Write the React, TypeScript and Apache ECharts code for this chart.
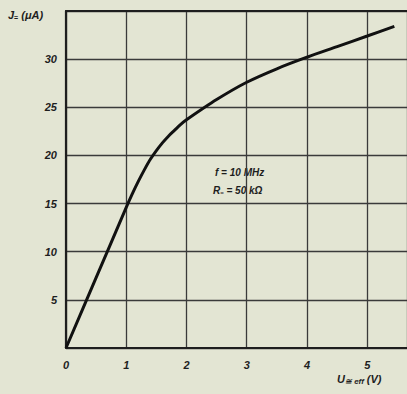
import React, { useEffect, useRef } from "react";
import * as echarts from "echarts";

const xValues = [0, 0.5, 1.0, 1.1, 1.2, 1.3, 1.4, 1.5, 1.6, 1.7, 1.8, 1.9, 2.0, 2.5, 3.0, 3.5, 4.0, 4.5, 5.0, 5.45];
const yValues = [0, 7.3, 14.6, 16.0, 17.3, 18.5, 19.6, 20.5, 21.3, 22.0, 22.6, 23.2, 23.7, 25.8, 27.6, 29.0, 30.2, 31.3, 32.4, 33.4];
const yTicks = [5, 10, 15, 20, 25, 30];
const xTicks = [0, 1, 2, 3, 4, 5];

const FONT = "Liberation Sans";
const INK = "#1e1e1e";

export default function App() {
  const ref = useRef<HTMLDivElement>(null);
  useEffect(() => {
    if (!ref.current) return;
    const chart = echarts.init(ref.current, null, { renderer: "svg" });
    const data = xValues.map((x, i) => [x, yValues[i]]);
    chart.setOption({
      animation: false,
      backgroundColor: "#e3e5d3",
      grid: { left: 66, right: -2, top: 11, bottom: 46 },
      xAxis: [
        {
          type: "value",
          min: 0,
          max: 5.66,
          interval: 1,
          axisLine: { show: true, onZero: false, lineStyle: { color: INK, width: 2.2 } },
          axisTick: { show: false },
          splitLine: { show: true, lineStyle: { color: "#3a3a3a", width: 1.3 } },
          axisLabel: {
            margin: 11,
            color: INK,
            fontFamily: FONT,
            fontStyle: "italic",
            fontWeight: "bold",
            fontSize: 11,
            showMaxLabel: false,
            formatter: (v: number) => (xTicks.includes(v) ? String(v) : ""),
          },
        },
        {
          type: "value",
          position: "top",
          min: 0,
          max: 5.66,
          interval: 1,
          axisLine: { show: true, onZero: false, lineStyle: { color: INK, width: 2 } },
          axisTick: { show: false },
          axisLabel: { show: false },
          splitLine: { show: false },
        },
      ],
      yAxis: {
        type: "value",
        min: 0,
        max: 35,
        interval: 5,
        axisLine: { show: true, lineStyle: { color: INK, width: 2.2 } },
        axisTick: { show: false },
        splitLine: { show: true, lineStyle: { color: "#3a3a3a", width: 1.3 } },
        axisLabel: {
          margin: 9,
          color: INK,
          fontFamily: FONT,
          fontStyle: "italic",
          fontWeight: "bold",
          fontSize: 11,
          formatter: (v: number) => (yTicks.includes(v) ? String(v) : ""),
        },
      },
      series: [
        {
          type: "line",
          xAxisIndex: 0,
          data,
          smooth: 0.3,
          showSymbol: false,
          lineStyle: { color: "#111", width: 3 },
        },
      ],
      graphic: [
        {
          type: "text",
          left: 8,
          top: 9,
          style: {
            text: "{a|J}{s|=}{a| (μA)}",
            rich: {
              a: { fontFamily: FONT, fontStyle: "italic", fontWeight: "bold", fontSize: 11, fill: INK },
              s: { fontFamily: FONT, fontWeight: "bold", fontSize: 7, fill: INK, padding: [6, 0, 0, 0] },
            },
          },
        },
        {
          type: "text",
          left: 337,
          top: 373,
          style: {
            text: "{a|U}{s|≅ eff}{a| (V)}",
            rich: {
              a: { fontFamily: FONT, fontStyle: "italic", fontWeight: "bold", fontSize: 11, fill: INK },
              s: { fontFamily: FONT, fontStyle: "italic", fontWeight: "bold", fontSize: 8, fill: INK, padding: [5, 0, 0, 0] },
            },
          },
        },
        {
          type: "text",
          left: 215,
          top: 167,
          style: {
            text: "f = 10 MHz",
            fontFamily: FONT,
            fontStyle: "italic",
            fontWeight: "bold",
            fontSize: 10,
            fill: INK,
          },
        },
        {
          type: "text",
          left: 213,
          top: 185,
          style: {
            text: "{a|R}{s|=}{a| = 50 kΩ}",
            rich: {
              a: { fontFamily: FONT, fontStyle: "italic", fontWeight: "bold", fontSize: 10, fill: INK },
              s: { fontFamily: FONT, fontWeight: "bold", fontSize: 6, fill: INK, padding: [5, 0, 0, 0] },
            },
          },
        },
      ],
    });
    return () => chart.dispose();
  }, []);
  return (
    <div
      ref={ref}
      style={{ position: "fixed", left: 0, top: 0, width: 407, height: 394 }}
    />
  );
}
